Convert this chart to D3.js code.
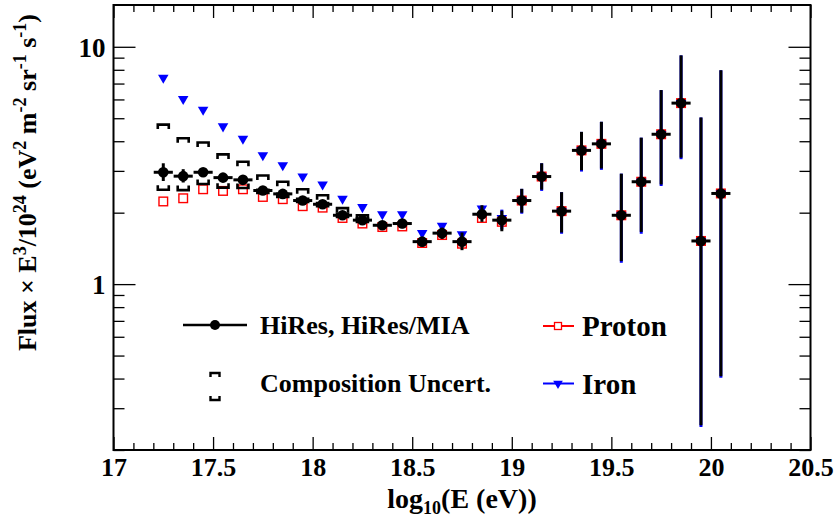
<!DOCTYPE html>
<html><head><meta charset="utf-8">
<script src="https://cdn.jsdelivr.net/npm/d3@7"></script>
<style>
body{margin:0;background:#fff}
text{font-family:"Liberation Serif","Times New Roman","DejaVu Serif",serif;font-weight:bold;fill:#000}
</style></head>
<body><svg id="c" width="836" height="527"></svg>
<script>
// ---- data ----
const energy = [17.25,17.35,17.45,17.55,17.65,17.75,17.85,17.95,18.05,18.15,18.25,18.35,18.45,18.55,18.65,18.75,18.85,18.95,19.05,19.15,19.25,19.35,19.45,19.55,19.65,19.75,19.85,19.95,20.05];
const hires   = [2.96,2.85,2.96,2.81,2.75,2.48,2.40,2.25,2.17,1.95,1.86,1.77,1.80,1.51,1.64,1.51,1.97,1.86,2.25,2.84,2.03,3.66,3.90,1.95,2.70,4.28,5.79,1.52,2.41];
const hiresLo = [2.72,2.68,2.85,2.71,2.65,2.39,2.32,2.18,2.10,1.89,1.80,1.71,1.72,1.44,1.55,1.39,1.83,1.67,2.00,2.50,1.65,3.02,3.07,1.25,1.66,2.63,3.41,0.254,0.409];
const hiresHi = [3.23,3.05,3.07,2.92,2.86,2.58,2.48,2.33,2.25,2.02,1.93,1.84,1.88,1.58,1.73,1.65,2.15,2.04,2.52,3.23,2.44,4.38,4.83,2.92,4.14,6.57,9.20,5.03,7.97];
const proton  = [2.23,2.30,2.51,2.47,2.51,2.33,2.28,2.13,2.10,1.90,1.80,1.74,1.75,1.49,1.61,1.48,1.90,1.83,2.25,2.84,2.03,3.66,3.90,1.95,2.70,4.28,5.79,1.52,2.41];
const iron    = [7.41,6.03,5.43,4.62,4.10,3.49,3.17,2.84,2.63,2.29,2.11,1.97,1.97,1.64,1.76,1.62,2.08,1.90,2.25,2.84,2.03,3.66,3.90,1.95,2.70,4.28,5.79,1.52,2.41];
const ironLo  = [null,null,null,null,null,null,null,null,null,null,null,null,null,null,null,null,null,1.70,1.98,2.47,1.63,2.98,3.03,1.23,1.63,2.59,3.36,0.250,0.403];
const ironHi  = [null,null,null,null,null,null,null,null,null,null,null,null,null,null,null,null,null,2.06,2.52,3.23,2.44,4.38,4.83,2.92,4.14,6.57,9.20,5.03,7.97];
const compE   = [17.25,17.35,17.45,17.55,17.65,17.75,17.85,17.95,18.05,18.15,18.25];
const compHi  = [4.70,4.12,3.95,3.52,3.28,2.87,2.70,2.51,2.37,2.09,1.95];
const compLo  = [2.50,2.49,2.64,2.55,2.54,2.42,2.33,2.22,2.13,1.92,1.83];
const binHalf = 0.048;
const xTicks = [17,17.5,18,18.5,19,19.5,20,20.5];
const yTicks = [1,10];
const yTickLabels = ["1","10"];
const legendLeft = ["HiRes, HiRes/MIA","Composition Uncert."];
const legendRight = ["Proton","Iron"];

// ---- setup ----
const svg = d3.select("#c");
const L=113.5, R=810.5, T=5, B=450;
const x = d3.scaleLinear().domain([17,20.5]).range([L,R]);
const y = d3.scaleLog().domain([0.2,15]).range([B,T]);
const FONT='"Liberation Serif","Times New Roman","DejaVu Serif",serif';

const minorX = d3.range(170,206).map(d=>d/10).filter(v=>!xTicks.some(t=>Math.abs(t-v)<1e-6));
const minorY = [0.2,0.3,0.4,0.5,0.6,0.7,0.8,0.9,2,3,4,5,6,7,8,9];

function styleAxis(g){g.attr("font-family",FONT);g.select(".domain").remove();g.selectAll("line").attr("stroke","#000").attr("stroke-width",1.3);}

svg.append("g").attr("transform",`translate(0,${B})`)
  .call(d3.axisBottom(x).tickValues(xTicks).tickSize(-13).tickPadding(5).tickFormat(d3.format("")))
  .call(styleAxis).call(g=>g.selectAll("text").attr("font-size",26).attr("dy","0.8em"));
svg.append("g").attr("transform",`translate(0,${B})`)
  .call(d3.axisBottom(x).tickValues(minorX).tickSize(-7).tickFormat(""))
  .call(styleAxis);
svg.append("g").attr("transform",`translate(0,${T})`)
  .call(d3.axisTop(x).tickValues(xTicks).tickSize(-13).tickFormat(""))
  .call(styleAxis);
svg.append("g").attr("transform",`translate(0,${T})`)
  .call(d3.axisTop(x).tickValues(minorX).tickSize(-7).tickFormat(""))
  .call(styleAxis);
svg.append("g").attr("transform",`translate(${L},0)`)
  .call(d3.axisLeft(y).tickValues(yTicks).tickSize(-22).tickPadding(8).tickFormat((d,i)=>yTickLabels[i]))
  .call(styleAxis).call(g=>g.selectAll("text").attr("font-size",27).attr("dy","0.35em"));
svg.append("g").attr("transform",`translate(${L},0)`)
  .call(d3.axisLeft(y).tickValues(minorY).tickSize(-11).tickFormat(""))
  .call(styleAxis);
svg.append("g").attr("transform",`translate(${R},0)`)
  .call(d3.axisRight(y).tickValues(yTicks).tickSize(-22).tickFormat(""))
  .call(styleAxis);
svg.append("g").attr("transform",`translate(${R},0)`)
  .call(d3.axisRight(y).tickValues(minorY).tickSize(-11).tickFormat(""))
  .call(styleAxis);

svg.append("rect").attr("x",L).attr("y",T).attr("width",R-L).attr("height",B-T)
  .attr("fill","none").attr("stroke","#000").attr("stroke-width",2);

// ---- titles ----
const xt = svg.append("text").attr("x",462).attr("y",508).attr("text-anchor","middle").attr("font-size",28);
xt.append("tspan").text("log");
xt.append("tspan").attr("font-size",18).attr("dy",6).text("10");
xt.append("tspan").attr("dy",-6).text("(E (eV))");

const yt = svg.append("text").attr("transform","translate(36,14) rotate(-90)").attr("text-anchor","end").attr("font-size",26);
const parts = [["Flux × E",0],["3",1],["/10",0],["24",1],[" (eV",0],["2",1],[" m",0],["-2",1],[" sr",0],["-1",1],[" s",0],["-1",1],[")",0]];
let prev=0;
parts.forEach(([t,s])=>{
  const sp=yt.append("tspan").text(t);
  const shift = s? -10:0;
  sp.attr("dy",shift-prev);
  if(s) sp.attr("font-size",18);
  prev=shift;
});

// ---- data marks ----
const idx = d3.range(energy.length);
const plot = svg.append("g");

plot.selectAll(".p").data(idx).join("rect")
  .attr("x",i=>x(energy[i])-4.3).attr("y",i=>y(proton[i])-4.3)
  .attr("width",8.6).attr("height",8.6)
  .attr("fill","none").attr("stroke","#ff0000").attr("stroke-width",1.4);

plot.selectAll(".ie").data(idx.filter(i=>ironLo[i]!=null)).join("line")
  .attr("x1",i=>x(energy[i])).attr("x2",i=>x(energy[i]))
  .attr("y1",i=>y(ironLo[i])).attr("y2",i=>y(ironHi[i]))
  .attr("stroke","#0000ff").attr("stroke-width",3);

const tri = d3.symbol().type(d3.symbolTriangle).size(48);
plot.selectAll(".i").data(idx).join("path")
  .attr("d",tri)
  .attr("transform",i=>`translate(${x(energy[i])},${y(iron[i])}) rotate(180)`)
  .attr("fill","#0000ff");

const cg = plot.append("g").attr("fill","none").attr("stroke","#000").attr("stroke-width",2.6);
const bw=5.5, bl=4.5;
compE.forEach((e,i)=>{
  const cx=x(e), yt1=y(compHi[i]), yb=y(compLo[i]);
  cg.append("path").attr("d",`M${cx-bw},${yt1+bl}V${yt1}H${cx+bw}V${yt1+bl}`);
  cg.append("path").attr("d",`M${cx-bw},${yb-bl}V${yb}H${cx+bw}V${yb-bl}`);
});

const hg = plot.append("g").attr("stroke","#000").attr("stroke-width",3);
hg.selectAll(".v").data(idx).join("line")
  .attr("x1",i=>x(energy[i])).attr("x2",i=>x(energy[i]))
  .attr("y1",i=>y(hiresLo[i])).attr("y2",i=>y(hiresHi[i]));
hg.selectAll(".h").data(idx).join("line")
  .attr("x1",i=>x(energy[i]-binHalf)).attr("x2",i=>x(energy[i]+binHalf))
  .attr("y1",i=>y(hires[i])).attr("y2",i=>y(hires[i]));
plot.selectAll(".c").data(idx).join("circle")
  .attr("cx",i=>x(energy[i])).attr("cy",i=>y(hires[i])).attr("r",5.3).attr("fill","#000");

// ---- legend ----
const lg = svg.append("g");
lg.append("line").attr("x1",183).attr("x2",247).attr("y1",325).attr("y2",325).attr("stroke","#000").attr("stroke-width",2.5);
lg.append("circle").attr("cx",215).attr("cy",325).attr("r",5).attr("fill","#000");
lg.append("text").attr("x",260).attr("y",334).attr("font-size",26).text(legendLeft[0]);
lg.append("path").attr("d",`M${215-bw+1},377V373H${215+bw-1}V377`).attr("fill","none").attr("stroke","#000").attr("stroke-width",2.4);
lg.append("path").attr("d",`M${215-bw+1},396V400H${215+bw-1}V396`).attr("fill","none").attr("stroke","#000").attr("stroke-width",2.4);
lg.append("text").attr("x",260).attr("y",392).attr("font-size",26).text(legendLeft[1]);

lg.append("line").attr("x1",543).attr("x2",574).attr("y1",326).attr("y2",326).attr("stroke","#ff0000").attr("stroke-width",2);
lg.append("rect").attr("x",554.5).attr("y",322.5).attr("width",7).attr("height",7).attr("fill","#fff").attr("stroke","#ff0000").attr("stroke-width",1.3);
lg.append("text").attr("x",582).attr("y",336).attr("font-size",29).text(legendRight[0]);
lg.append("line").attr("x1",543).attr("x2",574).attr("y1",383.5).attr("y2",383.5).attr("stroke","#0000ff").attr("stroke-width",2);
lg.append("path").attr("d",d3.symbol().type(d3.symbolTriangle).size(40)).attr("transform","translate(558,383.5) rotate(180)").attr("fill","#0000ff");
lg.append("text").attr("x",582).attr("y",393.5).attr("font-size",29).text(legendRight[1]);
</script></body></html>
